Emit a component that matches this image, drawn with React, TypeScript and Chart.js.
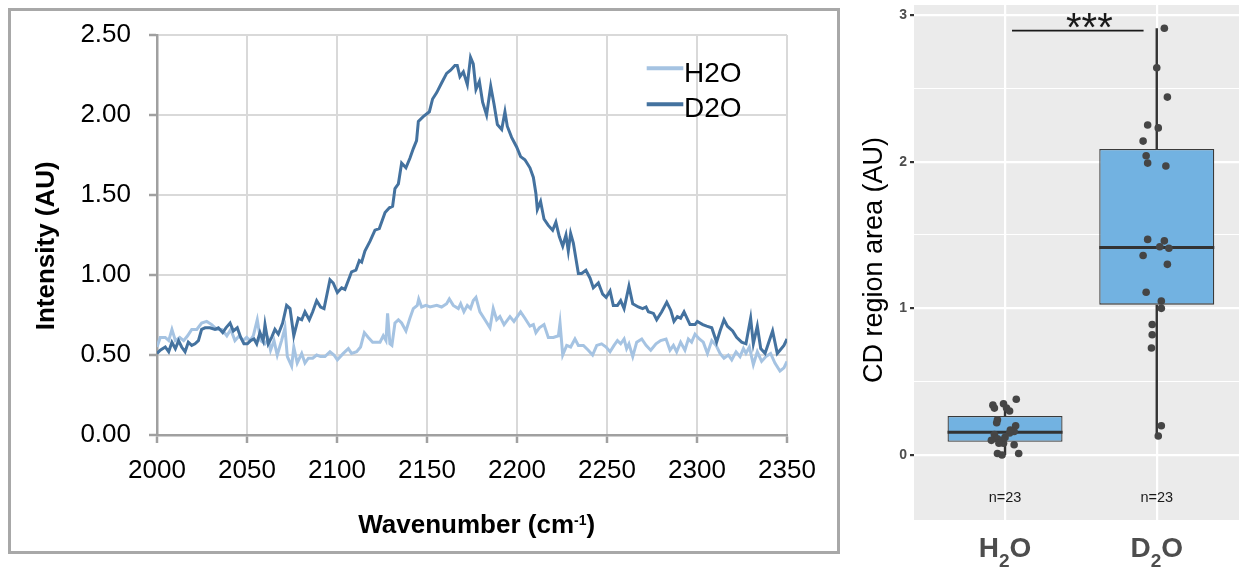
import React, { useEffect, useRef } from "react";
import { Chart, registerables } from "chart.js";

Chart.register(...registerables);

const FONT = "'Liberation Sans', Arial, Helvetica, sans-serif";

// ---------- Left panel: spectra ----------
const seriesLabels = ["H2O", "D2O"];
const seriesColors = ["#A5C3E2", "#44729F"];
const wavenumberTicks = [2000, 2050, 2100, 2150, 2200, 2250, 2300, 2350];
const intensityTicks = [0, 0.5, 1, 1.5, 2, 2.5];

const h2oWavenumber = [
  2000.0, 2001.8, 2004.6, 2006.5, 2008.3, 2010.2, 2012.6, 2014.8, 2017.0, 2019.3,
  2022.1, 2024.8, 2027.6, 2030.4, 2033.2, 2036.0, 2038.8, 2041.0, 2043.3, 2045.7,
  2047.9, 2049.8, 2051.7, 2053.5, 2055.7, 2057.6, 2060.0, 2061.8, 2063.1, 2065.0,
  2066.8, 2069.2, 2071.1, 2072.4, 2074.8, 2076.0, 2077.9, 2080.4, 2082.2, 2084.1,
  2086.5, 2088.7, 2090.9, 2093.3, 2096.1, 2098.3, 2100.2, 2103.5, 2106.3, 2108.1,
  2110.9, 2113.1, 2115.2, 2117.4, 2119.8, 2122.0, 2123.9, 2125.7, 2127.2, 2128.1,
  2129.4, 2130.5, 2132.2, 2134.1, 2135.9, 2138.3, 2140.5, 2142.4, 2144.6, 2145.4,
  2147.0, 2149.4, 2151.7, 2155.4, 2158.1, 2160.9, 2162.4, 2164.6, 2167.4, 2168.7,
  2170.5, 2172.4, 2174.2, 2175.7, 2177.2, 2179.4, 2182.2, 2185.0, 2186.8, 2188.7,
  2190.5, 2192.8, 2196.1, 2198.3, 2202.0, 2204.4, 2207.2, 2209.1, 2210.5, 2212.4,
  2215.0, 2217.4, 2220.2, 2223.0, 2223.9, 2225.4, 2227.6, 2229.8, 2232.2, 2234.1,
  2236.9, 2239.6, 2242.0, 2244.3, 2247.0, 2249.5, 2251.7, 2253.9, 2255.8, 2257.6,
  2259.5, 2260.9, 2262.2, 2264.3, 2266.5, 2269.3, 2271.7, 2274.3, 2277.2, 2279.8,
  2282.8, 2285.0, 2286.9, 2288.7, 2290.9, 2293.3, 2295.2, 2297.0, 2298.9, 2301.3,
  2303.5, 2305.8, 2308.2, 2310.6, 2312.8, 2315.0, 2317.4, 2319.3, 2321.7, 2323.9,
  2325.8, 2327.2, 2329.1, 2331.3, 2333.5, 2335.9, 2338.3, 2340.9, 2343.3, 2346.1,
  2348.3, 2350.0,
];
const h2oIntensity = [
  0.55, 0.61, 0.61, 0.59, 0.66, 0.59, 0.61, 0.59, 0.62, 0.66,
  0.66, 0.70, 0.71, 0.69, 0.66, 0.66, 0.62, 0.66, 0.59, 0.62,
  0.59, 0.61, 0.59, 0.62, 0.72, 0.59, 0.57, 0.60, 0.53, 0.59,
  0.50, 0.59, 0.67, 0.49, 0.43, 0.55, 0.45, 0.51, 0.45, 0.48,
  0.48, 0.50, 0.49, 0.49, 0.52, 0.50, 0.47, 0.51, 0.54, 0.51,
  0.52, 0.55, 0.64, 0.61, 0.58, 0.58, 0.58, 0.62, 0.59, 0.76,
  0.57, 0.56, 0.70, 0.72, 0.70, 0.65, 0.73, 0.79, 0.81, 0.85,
  0.80, 0.81, 0.80, 0.81, 0.80, 0.82, 0.85, 0.81, 0.79, 0.82,
  0.77, 0.81, 0.79, 0.84, 0.86, 0.77, 0.72, 0.67, 0.79, 0.72,
  0.74, 0.69, 0.74, 0.71, 0.77, 0.73, 0.68, 0.69, 0.64, 0.67,
  0.69, 0.61, 0.61, 0.62, 0.70, 0.50, 0.56, 0.55, 0.60, 0.56,
  0.56, 0.53, 0.50, 0.56, 0.57, 0.55, 0.52, 0.56, 0.59, 0.57,
  0.60, 0.54, 0.57, 0.49, 0.58, 0.60, 0.56, 0.53, 0.57, 0.59,
  0.60, 0.53, 0.56, 0.52, 0.58, 0.53, 0.60, 0.58, 0.63, 0.60,
  0.58, 0.51, 0.59, 0.56, 0.51, 0.48, 0.50, 0.47, 0.52, 0.49,
  0.54, 0.51, 0.55, 0.44, 0.52, 0.46, 0.49, 0.51, 0.45, 0.40,
  0.42, 0.46,
];

const d2oWavenumber = [
  2000.0, 2001.8, 2004.6, 2006.5, 2008.3, 2010.2, 2012.0, 2013.7, 2015.6, 2017.4,
  2019.3, 2021.1, 2023.0, 2024.8, 2026.7, 2029.4, 2032.2, 2034.1, 2036.5, 2038.3,
  2040.6, 2042.4, 2044.6, 2046.5, 2048.3, 2050.2, 2052.0, 2053.9, 2055.4, 2057.2,
  2059.0, 2060.0, 2061.8, 2063.7, 2065.5, 2067.4, 2069.8, 2072.0, 2073.9, 2076.0,
  2078.5, 2080.4, 2082.2, 2084.6, 2086.5, 2088.7, 2090.9, 2092.8, 2096.1, 2097.9,
  2100.2, 2102.6, 2104.4, 2108.1, 2110.5, 2112.4, 2113.7, 2115.5, 2118.3, 2121.1,
  2123.5, 2126.7, 2129.1, 2130.9, 2132.2, 2134.1, 2135.9, 2138.3, 2140.5, 2142.4,
  2144.2, 2145.2, 2147.9, 2151.3, 2153.1, 2155.4, 2158.1, 2160.9, 2163.1, 2165.5,
  2166.8, 2168.3, 2170.2, 2172.4, 2174.2, 2175.7, 2177.2, 2179.1, 2180.9, 2183.1,
  2185.4, 2187.2, 2189.1, 2191.5, 2193.3, 2194.6, 2197.0, 2199.8, 2202.0, 2204.4,
  2207.2, 2209.1, 2210.5, 2211.3, 2213.1, 2215.0, 2217.4, 2219.8, 2221.6, 2223.5,
  2225.4, 2227.2, 2228.5, 2229.8, 2231.3, 2234.1, 2235.9, 2238.3, 2240.6, 2242.4,
  2245.2, 2247.6, 2249.5, 2251.7, 2253.5, 2255.8, 2257.6, 2259.5, 2262.2, 2264.3,
  2267.4, 2269.8, 2271.7, 2273.0, 2275.8, 2277.6, 2280.4, 2283.2, 2285.4, 2287.2,
  2289.1, 2290.9, 2292.8, 2296.1, 2298.9, 2300.2, 2303.2, 2305.4, 2308.2, 2310.9,
  2312.8, 2315.0, 2316.9, 2319.8, 2322.0, 2324.8, 2327.2, 2328.5, 2329.8, 2331.3,
  2333.5, 2335.4, 2337.8, 2339.6, 2342.0, 2344.6, 2346.1, 2348.3, 2350.0,
];
const d2oIntensity = [
  0.51, 0.53, 0.55, 0.52, 0.58, 0.54, 0.59, 0.55, 0.52, 0.58,
  0.56, 0.57, 0.59, 0.66, 0.67, 0.67, 0.66, 0.67, 0.64, 0.67,
  0.70, 0.65, 0.67, 0.61, 0.57, 0.57, 0.59, 0.60, 0.57, 0.64,
  0.59, 0.69, 0.57, 0.61, 0.66, 0.63, 0.70, 0.81, 0.79, 0.62,
  0.73, 0.72, 0.77, 0.72, 0.77, 0.84, 0.80, 0.79, 0.97, 0.95,
  0.89, 0.92, 0.91, 1.02, 1.03, 1.09, 1.08, 1.15, 1.21, 1.28,
  1.29, 1.39, 1.42, 1.43, 1.54, 1.57, 1.70, 1.67, 1.73, 1.79,
  1.84, 1.96, 1.99, 2.02, 2.10, 2.14, 2.20, 2.26, 2.28, 2.31,
  2.31, 2.24, 2.27, 2.19, 2.36, 2.32, 2.16, 2.21, 2.08, 2.00,
  2.18, 2.07, 1.94, 1.91, 2.02, 1.93, 1.86, 1.80, 1.74, 1.72,
  1.67, 1.61, 1.51, 1.41, 1.46, 1.35, 1.31, 1.28, 1.33, 1.24,
  1.18, 1.25, 1.15, 1.26, 1.20, 1.01, 1.01, 1.03, 0.98, 0.92,
  0.95, 0.88, 0.86, 0.90, 0.81, 0.81, 0.84, 0.79, 0.93, 0.82,
  0.80, 0.79, 0.80, 0.77, 0.76, 0.72, 0.77, 0.83, 0.78, 0.71,
  0.74, 0.73, 0.77, 0.69, 0.69, 0.71, 0.69, 0.68, 0.67, 0.58,
  0.65, 0.72, 0.68, 0.65, 0.61, 0.58, 0.57, 0.65, 0.73, 0.57,
  0.68, 0.54, 0.51, 0.57, 0.65, 0.51, 0.53, 0.56, 0.60,
];

// ---------- Right panel: box plot ----------
const groupPositions = [1, 2];
const groupBase = ["H", "D"];
const groupSub = ["2", "2"];
const groupRest = ["O", "O"];
const groupN = [23, 23];
const h2oArea = [
  0.38, 0.35, 0.34, 0.32, 0.32, 0.30, 0.24, 0.22, 0.20, 0.16, 0.15, 0.14,
  0.11, 0.10, 0.10, 0.08, 0.08, 0.07, 0.01, 0.00, 0.01, 0.12, 0.17,
];
const h2oJitter = [
  0.074, -0.01, -0.08, -0.07, 0.01, 0.03, -0.05, -0.055, 0.07, 0.06, 0.03, -0.07,
  -0.05, -0.09, -0.02, -0.01, -0.04, 0.06, -0.05, -0.02, 0.09, 0.0, 0.035,
];
const d2oArea = [
  2.91, 2.64, 2.44, 2.25, 2.23, 2.14, 2.04, 1.99, 1.97, 1.47, 1.46, 1.42,
  1.41, 1.36, 1.30, 1.11, 1.05, 1.00, 0.89, 0.82, 0.73, 0.20, 0.13,
];
const d2oJitter = [
  0.05, 0.0, 0.07, -0.06, 0.01, -0.09, -0.07, -0.06, 0.06, -0.06, 0.05, 0.02,
  0.08, -0.09, 0.07, -0.07, 0.03, 0.03, -0.03, -0.03, -0.035, 0.03, 0.01,
];
const boxQ1 = [0.09, 1.025];
const boxMedian = [0.155, 1.415];
const boxQ3 = [0.266, 2.086];
const whiskerLow = [0.0, 0.13];
const whiskerHigh = [0.35, 2.91];
const areaGrid = [0, 0.5, 1, 1.5, 2, 2.5, 3];
const nLabelValue = -0.29;
const sigLabel = "***";
const sigFrom = 1.046;
const sigTo = 1.913;
const sigY = 2.893;
const sigTextX = 1.556;

const BOX_WIDTH = 0.758;

export default function App() {
  const leftRef = useRef<HTMLCanvasElement | null>(null);
  const rightRef = useRef<HTMLCanvasElement | null>(null);

  useEffect(() => {
    const leftCanvas = leftRef.current!;
    const rightCanvas = rightRef.current!;

    const leftDecor = {
      id: "leftDecor",
      afterDraw(chart: any) {
        const ctx = chart.ctx as CanvasRenderingContext2D;
        ctx.save();
        // legend
        chart.data.datasets.forEach((ds: any, i: number) => {
          const ly = 57.3 + i * 36;
          ctx.strokeStyle = ds.borderColor;
          ctx.lineWidth = 4;
          ctx.beginPath();
          ctx.moveTo(635.7, ly);
          ctx.lineTo(672.3, ly);
          ctx.stroke();
          ctx.font = `28px ${FONT}`;
          ctx.fillStyle = "#000";
          ctx.textAlign = "left";
          ctx.textBaseline = "alphabetic";
          ctx.fillText(ds.label, 673, 70.7 + i * 35);
        });
        // y title
        ctx.save();
        ctx.translate(42.5, 234.8);
        ctx.rotate(-Math.PI / 2);
        ctx.font = `bold 26px ${FONT}`;
        ctx.textAlign = "center";
        ctx.textBaseline = "alphabetic";
        ctx.fillStyle = "#000";
        ctx.fillText("Intensity (AU)", 0, 0);
        ctx.restore();
        // x title with superscript
        const p1 = "Wavenumber (cm";
        const p2 = "-1";
        const p3 = ")";
        ctx.fillStyle = "#000";
        ctx.textBaseline = "alphabetic";
        ctx.textAlign = "left";
        ctx.font = `bold 26px ${FONT}`;
        const w1 = ctx.measureText(p1).width;
        const w3 = ctx.measureText(p3).width;
        ctx.font = `bold 14px ${FONT}`;
        const w2 = ctx.measureText(p2).width;
        const total = w1 + w2 + w3;
        let x0 = 465.7 - total / 2;
        const by = 522;
        ctx.font = `bold 26px ${FONT}`;
        ctx.fillText(p1, x0, by);
        x0 += w1;
        ctx.font = `bold 14px ${FONT}`;
        ctx.fillText(p2, x0, by - 8);
        x0 += w2;
        ctx.font = `bold 26px ${FONT}`;
        ctx.fillText(p3, x0, by);
        ctx.restore();
      },
    };

    const left = new Chart(leftCanvas, {
      type: "line",
      data: {
        datasets: [
          {
            label: seriesLabels[0],
            data: h2oWavenumber.map((x, i) => ({ x, y: h2oIntensity[i] })),
            borderColor: seriesColors[0],
            backgroundColor: seriesColors[0],
            borderWidth: 3,
            pointRadius: 0,
            tension: 0,
            fill: false,
            order: 1,
          },
          {
            label: seriesLabels[1],
            data: d2oWavenumber.map((x, i) => ({ x, y: d2oIntensity[i] })),
            borderColor: seriesColors[1],
            backgroundColor: seriesColors[1],
            borderWidth: 3,
            pointRadius: 0,
            tension: 0,
            fill: false,
            order: 0,
          },
        ],
      },
      options: {
        animation: false,
        responsive: false,
        maintainAspectRatio: false,
        layout: { padding: { top: 24, right: 50, left: 0, bottom: 0 } },
        plugins: { legend: { display: false }, tooltip: { enabled: false } },
        scales: {
          x: {
            type: "linear",
            min: 2000,
            max: 2350,
            afterBuildTicks: (s: any) => {
              s.ticks = wavenumberTicks.map((v) => ({ value: v }));
            },
            afterFit: (s: any) => {
              s.height = 116;
              s.paddingLeft = 0;
              s.paddingRight = 0;
            },
            grid: {
              color: "#D9D9D9",
              lineWidth: 2,
              tickColor: "#A0A0A0",
              tickLength: 8,
              tickWidth: 2.5,
            },
            border: { color: "#A0A0A0", width: 2.5 },
            ticks: {
              font: { family: FONT, size: 26 },
              color: "#000",
              padding: 12,
              maxRotation: 0,
              autoSkip: false,
              callback: (v: any) => String(v),
            },
          },
          y: {
            type: "linear",
            min: 0,
            max: 2.5,
            afterBuildTicks: (s: any) => {
              s.ticks = intensityTicks.map((v) => ({ value: v }));
            },
            afterFit: (s: any) => {
              s.width = 146;
              s.paddingTop = 0;
              s.paddingBottom = 0;
            },
            grid: {
              color: "#D9D9D9",
              lineWidth: 2,
              tickColor: "#A0A0A0",
              tickLength: 8,
              tickWidth: 2.5,
            },
            border: { color: "#A0A0A0", width: 2.5 },
            ticks: {
              font: { family: FONT, size: 26 },
              color: "#000",
              padding: 18,
              autoSkip: false,
              callback: (v: any) => Number(v).toFixed(2),
            },
          },
        },
      },
      plugins: [leftDecor],
    } as any);

    // ---- right chart ----
    const points: { x: number; y: number }[] = [];
    h2oArea.forEach((v, i) => points.push({ x: groupPositions[0] + h2oJitter[i], y: v }));
    d2oArea.forEach((v, i) => points.push({ x: groupPositions[1] + d2oJitter[i], y: v }));

    const medianData: { x: number; y: number | null }[] = [];
    const whiskerData: { x: number; y: number | null }[] = [];
    groupPositions.forEach((p, i) => {
      medianData.push({ x: p - BOX_WIDTH / 2, y: boxMedian[i] });
      medianData.push({ x: p + BOX_WIDTH / 2, y: boxMedian[i] });
      medianData.push({ x: p + 0.5, y: null });
      whiskerData.push({ x: p, y: whiskerLow[i] });
      whiskerData.push({ x: p, y: boxQ1[i] });
      whiskerData.push({ x: p, y: null });
      whiskerData.push({ x: p, y: boxQ3[i] });
      whiskerData.push({ x: p, y: whiskerHigh[i] });
      whiskerData.push({ x: p + 0.5, y: null });
    });

    const rightDecor = {
      id: "rightDecor",
      beforeDraw(chart: any) {
        const { ctx, chartArea } = chart;
        ctx.save();
        ctx.fillStyle = "#EBEBEB";
        ctx.fillRect(chartArea.left, chartArea.top, chartArea.right - chartArea.left, chartArea.bottom - chartArea.top);
        ctx.restore();
      },
      afterDraw(chart: any) {
        const ctx = chart.ctx as CanvasRenderingContext2D;
        const xs = chart.scales.x;
        const ys = chart.scales.y;
        ctx.save();
        // y title
        ctx.save();
        ctx.translate(39.7, 260);
        ctx.rotate(-Math.PI / 2);
        ctx.font = `27px ${FONT}`;
        ctx.textAlign = "center";
        ctx.textBaseline = "alphabetic";
        ctx.fillStyle = "#000";
        ctx.fillText("CD region area (AU)", 0, 0);
        ctx.restore();
        // n labels
        ctx.font = `14.5px ${FONT}`;
        ctx.fillStyle = "#1A1A1A";
        ctx.textAlign = "center";
        ctx.textBaseline = "middle";
        groupPositions.forEach((p, i) => {
          ctx.fillText(`n=${groupN[i]}`, xs.getPixelForValue(p), ys.getPixelForValue(nLabelValue));
        });
        // x category labels with subscript
        ctx.fillStyle = "#4D4D4D";
        ctx.textAlign = "left";
        ctx.textBaseline = "alphabetic";
        groupPositions.forEach((p, i) => {
          ctx.font = `bold 28px ${FONT}`;
          const wa = ctx.measureText(groupBase[i]).width;
          const wc = ctx.measureText(groupRest[i]).width;
          ctx.font = `bold 19px ${FONT}`;
          const wb = ctx.measureText(groupSub[i]).width;
          let x0 = xs.getPixelForValue(p) - (wa + wb + wc) / 2;
          const by = 556.7;
          ctx.font = `bold 28px ${FONT}`;
          ctx.fillText(groupBase[i], x0, by);
          x0 += wa;
          ctx.font = `bold 19px ${FONT}`;
          ctx.fillText(groupSub[i], x0, by + 10);
          x0 += wb;
          ctx.font = `bold 28px ${FONT}`;
          ctx.fillText(groupRest[i], x0, by);
        });
        // significance stars
        ctx.font = `40px ${FONT}`;
        ctx.fillStyle = "#1A1A1A";
        ctx.textAlign = "center";
        ctx.textBaseline = "alphabetic";
        ctx.fillText(sigLabel, xs.getPixelForValue(sigTextX), 41);
        ctx.restore();
      },
    };

    const right = new Chart(rightCanvas, {
      type: "bar",
      data: {
        datasets: [
          {
            type: "scatter",
            data: points,
            backgroundColor: "#454545",
            borderWidth: 0,
            pointRadius: 3.8,
            order: 0,
          },
          {
            type: "line",
            data: [
              { x: sigFrom, y: sigY },
              { x: sigTo, y: sigY },
            ],
            borderColor: "#1A1A1A",
            borderWidth: 1.8,
            pointRadius: 0,
            order: 0,
          },
          {
            type: "line",
            data: medianData,
            borderColor: "#333333",
            borderWidth: 3,
            pointRadius: 0,
            spanGaps: false,
            order: 1,
          },
          {
            type: "bar",
            data: groupPositions.map((p, i) => ({ x: p, y: [boxQ1[i], boxQ3[i]] })),
            backgroundColor: "#72B2E1",
            borderColor: "#3A3A3A",
            borderWidth: 1.3,
            borderSkipped: false,
            barPercentage: BOX_WIDTH,
            categoryPercentage: 1,
            order: 2,
          },
          {
            type: "line",
            data: whiskerData,
            borderColor: "#333333",
            borderWidth: 2.4,
            pointRadius: 0,
            spanGaps: false,
            order: 3,
          },
        ],
      },
      options: {
        animation: false,
        responsive: false,
        maintainAspectRatio: false,
        layout: { padding: { top: 5, right: 0, left: 0, bottom: 0 } },
        plugins: { legend: { display: false }, tooltip: { enabled: false } },
        scales: {
          x: {
            type: "linear",
            min: 0.4,
            max: 2.542,
            offset: false,
            afterBuildTicks: (s: any) => {
              s.ticks = groupPositions.map((v) => ({ value: v }));
            },
            afterFit: (s: any) => {
              s.height = 47;
              s.paddingLeft = 0;
              s.paddingRight = 0;
            },
            grid: { color: "#FFFFFF", lineWidth: 2.2, drawTicks: false, offset: false },
            border: { display: false },
            ticks: { display: false },
          },
          y: {
            type: "linear",
            min: -0.443,
            max: 3.068,
            afterBuildTicks: (s: any) => {
              s.ticks = areaGrid.map((v) => ({ value: v }));
            },
            afterFit: (s: any) => {
              s.width = 72;
              s.paddingTop = 0;
              s.paddingBottom = 0;
            },
            grid: {
              color: "#FFFFFF",
              lineWidth: (c: any) => (Number.isInteger(c.tick?.value) ? 2.2 : 1.1),
              tickColor: (c: any) => (Number.isInteger(c.tick?.value) ? "#333333" : "rgba(0,0,0,0)"),
              tickLength: 4,
              tickWidth: 2.2,
            },
            border: { display: false },
            ticks: {
              autoSkip: false,
              font: { family: FONT, size: 14, weight: "bold" },
              color: "#4D4D4D",
              padding: 3,
              callback: (v: any) => (Number.isInteger(Number(v)) ? String(v) : ""),
            },
          },
        },
      },
      plugins: [rightDecor],
    } as any);

    return () => {
      left.destroy();
      right.destroy();
    };
  }, []);

  return (
    <div
      style={{
        position: "fixed",
        left: 0,
        top: 0,
        width: 1243,
        height: 567,
        overflow: "hidden",
        background: "#FFFFFF",
      }}
    >
      <div
        style={{
          position: "absolute",
          left: 8,
          top: 8,
          width: 832,
          height: 546,
          border: "3px solid #A8A8A8",
          boxSizing: "border-box",
        }}
      />
      <canvas
        ref={leftRef}
        width={826}
        height={540}
        style={{ position: "absolute", left: 11, top: 11, width: 826, height: 540 }}
      />
      <canvas
        ref={rightRef}
        width={401}
        height={567}
        style={{ position: "absolute", left: 842, top: 0, width: 401, height: 567 }}
      />
    </div>
  );
}
